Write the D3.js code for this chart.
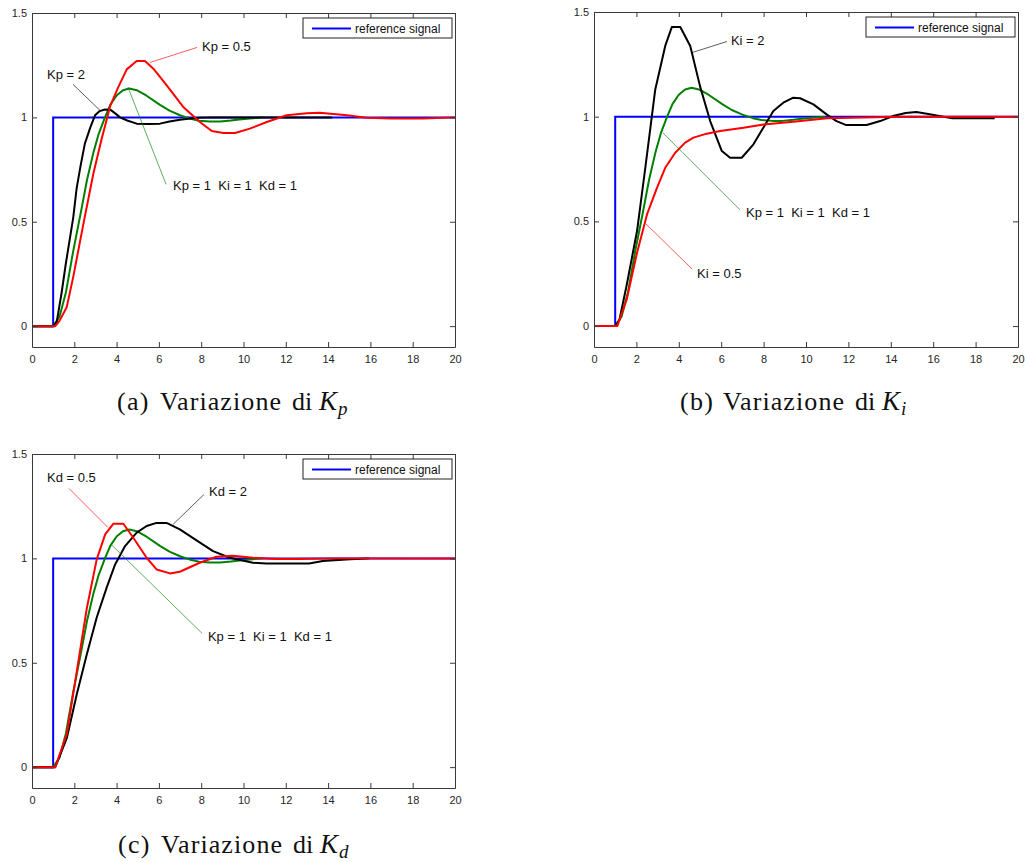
<!DOCTYPE html>
<html>
<head>
<meta charset="utf-8">
<script src="https://cdn.jsdelivr.net/npm/d3@7/dist/d3.min.js"></script>
<style>
  html, body { margin: 0; padding: 0; background: #fff; }
  svg { display: block; }
  .tick text { font-family: "Liberation Sans", Arial, sans-serif; font-size: 11px; fill: #262626; }
  .ann { font-family: "Liberation Sans", Arial, sans-serif; font-size: 13px; fill: #111; white-space: pre; }
  .leg { font-family: "Liberation Sans", Arial, sans-serif; font-size: 12px; fill: #111; }
  .cap { font-family: "Liberation Serif", "Times New Roman", serif; font-size: 26px; fill: #111; }
</style>
</head>
<body>
<svg id="chart" width="1025" height="862"></svg>
<script>
// Step responses of a PID loop, [time s, output] pairs
const referenceSignal = [[0, 0], [1, 0], [1, 1], [20, 1]];

const nominalPID = [
  [0, 0], [1, 0], [1.3, 0.045], [1.6, 0.16], [1.95, 0.36], [2.3, 0.54], [2.6, 0.70],
  [2.9, 0.83], [3.15, 0.92], [3.45, 1.0], [3.7, 1.06], [4.0, 1.105], [4.3, 1.13],
  [4.6, 1.138], [4.95, 1.13], [5.4, 1.105], [6.05, 1.06], [6.5, 1.032], [7.0, 1.01],
  [7.5, 0.993], [7.9, 0.984], [8.4, 0.98], [8.9, 0.98], [9.4, 0.985], [9.8, 0.99],
  [10.3, 0.995], [10.9, 1.0]
];

const kpTwo = [
  [0, 0], [1, 0], [1.17, 0.02], [1.4, 0.16], [1.6, 0.30], [1.95, 0.52], [2.11, 0.66],
  [2.3, 0.77], [2.5, 0.874], [2.75, 0.95], [2.98, 1.01], [3.2, 1.03], [3.45, 1.038],
  [3.7, 1.037], [3.95, 1.018], [4.16, 1.0], [4.5, 0.985], [4.95, 0.97], [5.5, 0.968],
  [6.05, 0.97], [6.5, 0.98], [7.0, 0.989], [7.5, 0.995], [7.9, 0.998], [8.5, 1.0],
  [11, 1.0], [14.2, 1.0]
];

const kpHalf = [
  [0, 0], [1, 0], [1.1, 0], [1.3, 0.025], [1.64, 0.09], [1.95, 0.236], [2.43, 0.49],
  [2.9, 0.73], [3.3, 0.9], [3.7, 1.055], [4.08, 1.145], [4.48, 1.23], [4.95, 1.27],
  [5.34, 1.27], [5.74, 1.233], [6.37, 1.153], [7.15, 1.05], [7.94, 0.978], [8.5, 0.935],
  [9.05, 0.925], [9.6, 0.925], [10.3, 0.946], [11.1, 0.978], [12.04, 1.01], [13.0, 1.02],
  [13.6, 1.022], [14.9, 1.01], [15.8, 0.998], [17, 0.995], [18.5, 0.995], [20, 1.0]
];

const kiTwo = [
  [0, 0], [1, 0], [1.2, 0.03], [1.55, 0.2], [2.03, 0.454], [2.42, 0.756], [2.89, 1.13],
  [3.36, 1.338], [3.67, 1.428], [4.07, 1.428], [4.54, 1.338], [5.0, 1.146], [5.48, 0.979],
  [6.03, 0.836], [6.42, 0.804], [6.97, 0.804], [7.52, 0.868], [8.0, 0.95], [8.46, 1.027],
  [8.93, 1.067], [9.4, 1.091], [9.72, 1.088], [10.35, 1.059], [10.97, 1.011], [11.44, 0.979],
  [11.9, 0.96], [12.86, 0.96], [13.5, 0.979], [14.1, 1.003], [14.7, 1.018], [15.2, 1.022],
  [15.7, 1.014], [16.3, 1.003], [16.9, 0.992], [18.9, 0.992]
];

const kiHalf = [
  [0, 0], [1, 0], [1.1, 0], [1.55, 0.13], [2.03, 0.35], [2.5, 0.533], [2.97, 0.66],
  [3.36, 0.756], [3.83, 0.828], [4.3, 0.876], [4.69, 0.9], [5.32, 0.919], [5.95, 0.932],
  [7.05, 0.947], [8.0, 0.963], [9.4, 0.976], [11, 0.992], [13.3, 0.997], [14, 1.0], [20, 1.0]
];

const kdHalf = [
  [0, 0], [1, 0], [1.1, 0], [1.65, 0.16], [2.12, 0.46], [2.59, 0.76], [3.06, 0.995],
  [3.46, 1.115], [3.85, 1.166], [4.32, 1.166], [4.79, 1.099], [5.42, 1.003], [5.89, 0.947],
  [6.52, 0.928], [6.99, 0.936], [7.93, 0.979], [8.72, 1.008], [9.5, 1.013], [10.45, 1.003],
  [11.55, 0.997], [12.6, 0.997], [14.2, 1.0], [20, 1.0]
];

const kdTwo = [
  [0, 0], [1, 0], [1.1, 0], [1.65, 0.14], [2.12, 0.35], [2.59, 0.54], [3.06, 0.717],
  [3.53, 0.86], [3.93, 0.971], [4.4, 1.059], [4.95, 1.123], [5.42, 1.155], [5.89, 1.17],
  [6.36, 1.17], [6.99, 1.139], [7.78, 1.086], [8.56, 1.035], [9.35, 1.003], [10.45, 0.979],
  [11.08, 0.975], [13.1, 0.975], [13.75, 0.987], [14.85, 0.995], [15.95, 1.0]
];

const xTicks = [0, 2, 4, 6, 8, 10, 12, 14, 16, 18, 20];
const yTicks = [0, 0.5, 1, 1.5];
const legendLabel = "reference signal";
const nominalLabel = "Kp = 1  Ki = 1  Kd = 1";

const COLORS = { ref: "#0000ff", nominal: "#008000", high: "#000000", low: "#ff0000" };

// Panel layout: plot box in pixels, curves, callouts (text and leader in data units)
const panels = [
  {
    left: 32, top: 13, width: 423, height: 334,
    caption: ["(a)", "Variazione", "di", "K", "p"], capX: 117, capY: 410,
    series: [
      { data: nominalPID, color: COLORS.nominal },
      { data: kpTwo, color: COLORS.high },
      { data: kpHalf, color: COLORS.low }
    ],
    notes: [
      { text: "Kp = 0.5", color: COLORS.low, at: [8.04, 1.316], from: [7.8, 1.335], to: [5.58, 1.263] },
      { text: "Kp = 2", color: COLORS.high, at: [0.71, 1.182], from: [1.94, 1.158], to: [3.22, 1.033] },
      { text: nominalLabel, color: COLORS.nominal, at: [6.67, 0.651], from: [6.34, 0.679], to: [4.54, 1.144] }
    ]
  },
  {
    left: 594, top: 12, width: 424, height: 335,
    caption: ["(b)", "Variazione", "di", "K", "i"], capX: 680, capY: 410,
    series: [
      { data: nominalPID, color: COLORS.nominal },
      { data: kiTwo, color: COLORS.high },
      { data: kiHalf, color: COLORS.low }
    ],
    notes: [
      { text: "Ki = 2", color: COLORS.high, at: [6.46, 1.344], from: [6.27, 1.359], to: [4.62, 1.306] },
      { text: nominalLabel, color: COLORS.nominal, at: [7.17, 0.522], from: [6.89, 0.555], to: [3.25, 0.923] },
      { text: "Ki = 0.5", color: COLORS.low, at: [4.86, 0.23], from: [4.62, 0.273], to: [2.45, 0.488] }
    ]
  },
  {
    left: 32, top: 454, width: 423, height: 334,
    caption: ["(c)", "Variazione", "di", "K", "d"], capX: 118, capY: 853,
    series: [
      { data: nominalPID, color: COLORS.nominal },
      { data: kdTwo, color: COLORS.high },
      { data: kdHalf, color: COLORS.low }
    ],
    notes: [
      { text: "Kd = 0.5", color: COLORS.low, at: [0.71, 1.364], from: [1.75, 1.335], to: [3.59, 1.148] },
      { text: "Kd = 2", color: COLORS.high, at: [8.37, 1.297], from: [8.13, 1.306], to: [6.67, 1.163] },
      { text: nominalLabel, color: COLORS.nominal, at: [8.32, 0.603], from: [8.04, 0.641], to: [3.74, 1.067] }
    ]
  }
];

const svg = d3.select("#chart");

panels.forEach(p => {
  const g = svg.append("g").attr("transform", `translate(${p.left},${p.top})`);
  const x = d3.scaleLinear().domain([0, 20]).range([0, p.width]);
  const y = d3.scaleLinear().domain([-0.1, 1.5]).range([p.height, 0]);

  // curves
  const line = d3.line().x(d => x(d[0])).y(d => y(d[1])).curve(d3.curveLinear);
  g.append("path").datum(referenceSignal)
    .attr("d", line).attr("fill", "none")
    .attr("stroke", COLORS.ref).attr("stroke-width", 2);
  p.series.forEach(s => {
    g.append("path").datum(s.data)
      .attr("d", line).attr("fill", "none")
      .attr("stroke", s.color).attr("stroke-width", 2)
      .attr("stroke-linejoin", "round");
  });

  // boxed axes with inward ticks on all four sides
  const fmt = d => String(d);
  const axes = [
    g.append("g").attr("transform", `translate(0,${p.height})`)
      .call(d3.axisBottom(x).tickValues(xTicks).tickFormat(fmt).tickSizeInner(-5).tickSizeOuter(0).tickPadding(8)),
    g.append("g")
      .call(d3.axisLeft(y).tickValues(yTicks).tickFormat(fmt).tickSizeInner(-5).tickSizeOuter(0).tickPadding(5)),
    g.append("g")
      .call(d3.axisTop(x).tickValues(xTicks).tickFormat("").tickSizeInner(-5).tickSizeOuter(0)),
    g.append("g").attr("transform", `translate(${p.width},0)`)
      .call(d3.axisRight(y).tickValues(yTicks).tickFormat("").tickSizeInner(-5).tickSizeOuter(0))
  ];
  axes.forEach(a => {
    a.select(".domain").attr("stroke", "#3a3a3a");
    a.selectAll(".tick line").attr("stroke", "#3a3a3a");
    a.selectAll("text").attr("font-family", null).attr("font-size", null).attr("fill", null);
  });

  // callouts
  p.notes.forEach(n => {
    g.append("line")
      .attr("x1", x(n.from[0])).attr("y1", y(n.from[1]))
      .attr("x2", x(n.to[0])).attr("y2", y(n.to[1]))
      .attr("stroke", n.color).attr("stroke-width", 0.8).attr("stroke-opacity", 0.8);
    g.append("text").attr("class", "ann")
      .attr("x", x(n.at[0])).attr("y", y(n.at[1]))
      .text(n.text);
  });

  // legend
  const lw = 149, lh = 20;
  const lg = g.append("g").attr("transform", `translate(${p.width - 3 - lw},5)`);
  lg.append("rect").attr("width", lw).attr("height", lh)
    .attr("fill", "#fff").attr("stroke", "#222").attr("stroke-width", 1);
  lg.append("line").attr("x1", 9).attr("x2", 48).attr("y1", 10.5).attr("y2", 10.5)
    .attr("stroke", COLORS.ref).attr("stroke-width", 2);
  lg.append("text").attr("class", "leg").attr("x", 52).attr("y", 14.5).text(legendLabel);

  // caption: "(x) Variazione di K_sub"
  const t = svg.append("text").attr("class", "cap").attr("y", p.capY);
  t.append("tspan").attr("x", p.capX).attr("letter-spacing", 1.3).text(p.caption[0]);
  t.append("tspan").attr("x", p.capX + 43).attr("letter-spacing", 1.1).text(p.caption[1]);
  t.append("tspan").attr("x", p.capX + 175).text(p.caption[2]);
  t.append("tspan").attr("x", p.capX + 202).attr("font-style", "italic").attr("font-size", 27).text(p.caption[3]);
  t.append("tspan").attr("dx", 1).attr("dy", 5).attr("font-style", "italic").attr("font-size", 19).text(p.caption[4]);
});
</script>
</body>
</html>
